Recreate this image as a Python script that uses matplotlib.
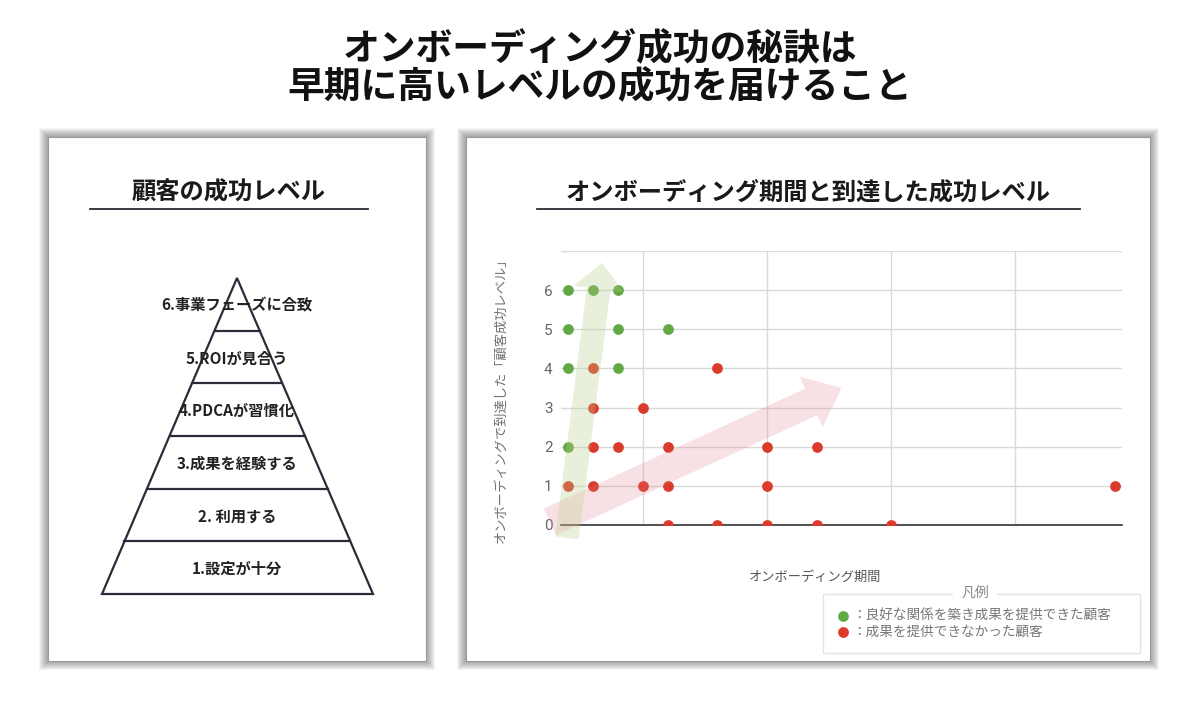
import matplotlib
matplotlib.use("Agg")
import matplotlib.pyplot as plt
from matplotlib.patches import Rectangle, Polygon
import numpy as np

plt.rcParams['font.family'] = ['Noto Sans CJK JP', 'DejaVu Sans']

# --- data ---
title_lines = ["オンボーディング成功の秘訣は", "早期に高いレベルの成功を届けること"]
pyramid_title = "顧客の成功レベル"
pyramid_levels = ["1.設定が十分", "2. 利用する", "3.成果を経験する",
                  "4.PDCAが習慣化", "5.ROIが見合う", "6.事業フェーズに合致"]

scatter_title = "オンボーディング期間と到達した成功レベル"
x_label = "オンボーディング期間"
y_label = "オンボーディングで到達した「顧客成功レベル」"
y_ticks = [0, 1, 2, 3, 4, 5, 6]

good_x = [2, 3, 4, 2, 4, 6, 2, 4, 2]
good_y = [6, 6, 6, 5, 5, 5, 4, 4, 2]
bad_x = [2, 3, 5, 6, 10, 24, 3, 4, 6, 10, 12, 3, 5, 3, 8, 6, 8, 10, 12, 15]
bad_y = [1, 1, 1, 1, 1, 1, 2, 2, 2, 2, 2, 3, 3, 4, 4, 0, 0, 0, 0, 0]

legend_title = "凡例"
legend_labels = ["：良好な関係を築き成果を提供できた顧客", "：成果を提供できなかった顧客"]

# trend arrows (data coords: tail -> tip)
green_arrow = ((1.94, -0.33), (3.35, 6.70))
red_arrow = ((1.25, 0.08), (13.0, 3.50))

GREEN = "#62a844"
RED = "#db3b2b"

fig = plt.figure(figsize=(12, 7.08), dpi=100)
fig.patch.set_facecolor("white")

# background layer in pixel coordinates
bg = fig.add_axes([0, 0, 1, 1])
bg.set_xlim(0, 1200)
bg.set_ylim(708, 0)
bg.axis("off")

# two panels with soft shadows
panels = [(48, 137, 378, 524), (466, 137, 684, 524)]
for (px, py, pw, ph) in panels:
    for k in range(9, 0, -1):
        bg.add_patch(Rectangle((px - k, py - k), pw + 2 * k, ph + 2 * k,
                               fc="black", ec="none", alpha=0.045))
    bg.add_patch(Rectangle((px, py), pw, ph, fc="white", ec="#9a9a9a", lw=0.8))

# main title
bg.text(600, 50, title_lines[0], ha="center", va="center", fontsize=26.5,
        fontweight="bold", color="#111111")
bg.text(600, 88, title_lines[1], ha="center", va="center", fontsize=26.5,
        fontweight="bold", color="#111111")

# panel headings
bg.text(229, 193, pyramid_title, ha="center", va="center", fontsize=17.5,
        fontweight="bold", color="#1a1a1a")
bg.plot([90, 368], [209, 209], color="#2b2b35", lw=1.3)
bg.text(808, 193, scatter_title, ha="center", va="center", fontsize=17.5,
        fontweight="bold", color="#1a1a1a")
bg.plot([537, 1080], [209, 209], color="#2b2b35", lw=1.3)

# pyramid
apex = (237, 278)
base_y, base_l, base_r = 594, 102, 373
edges = np.linspace(base_y, apex[1], len(pyramid_levels) + 1)
bg.add_patch(Polygon([(base_l, base_y), (base_r, base_y), apex], closed=True,
                     fc="none", ec="#2b2b3a", lw=1.6, joinstyle="miter"))
for yb in edges[1:-1]:
    t = (base_y - yb) / (base_y - apex[1])
    xl = base_l + t * (apex[0] - base_l)
    xr = base_r + t * (apex[0] - base_r)
    bg.plot([xl, xr], [yb, yb], color="#2b2b3a", lw=1.6)
for i, lab in enumerate(pyramid_levels):
    yc = (edges[i] + edges[i + 1]) / 2 + 1.5
    bg.text(237, yc, lab, ha="center", va="center", fontsize=11,
            fontweight="bold", color="#222222")

# scatter chart
ax = fig.add_axes([561 / 1200, 1 - 525 / 708, 561 / 1200, 274 / 708])
ax.set_facecolor("white")
ax.scatter(good_x, good_y, s=60, color=GREEN, zorder=3, linewidths=0,
           label=legend_labels[0])
ax.scatter(bad_x, bad_y, s=60, color=RED, zorder=3, linewidths=0,
           label=legend_labels[1])

ax.set_xlim(1.7, 24.3)
ax.set_ylim(0, 7)
ax.set_xticks([5, 10, 15, 20])
ax.set_xticklabels([])
ax.set_yticks(y_ticks + [7])
ax.set_yticklabels([str(v) for v in y_ticks] + [""])
ax.tick_params(length=0, labelsize=11, labelcolor="#666666", pad=6)
for lab in ax.get_yticklabels():
    lab.set_family(["Roboto", "DejaVu Sans"])
ax.grid(True, color="#d9d9d9", lw=1)
ax.set_axisbelow(True)
for s in ["top", "right", "left"]:
    ax.spines[s].set_visible(False)
ax.spines["bottom"].set_color("#333333")
ax.spines["bottom"].set_linewidth(1.2)
ax.spines["bottom"].set_zorder(2.5)

ax.set_ylabel(y_label, fontsize=9.5, color="#707070")
ax.yaxis.set_label_coords(-0.096, 0.467)
ax.set_xlabel(x_label, fontsize=9.5, color="#555555")
ax.xaxis.set_label_coords(0.453, -0.168)

# trend arrows on top, semi-transparent
ax.annotate("", xy=red_arrow[1], xytext=red_arrow[0], annotation_clip=False,
            arrowprops=dict(arrowstyle="simple,head_length=2.4,head_width=4.0,tail_width=2.1",
                            mutation_scale=10, fc="#e07a85", ec="none", alpha=0.22,
                            shrinkA=0, shrinkB=0), zorder=5)
ax.annotate("", xy=green_arrow[1], xytext=green_arrow[0], annotation_clip=False,
            arrowprops=dict(arrowstyle="simple,head_length=1.9,head_width=3.6,tail_width=1.7",
                            mutation_scale=10, fc="#b6cf8a", ec="none", alpha=0.3,
                            shrinkA=0, shrinkB=0), zorder=5)

leg = ax.legend(loc="upper left",
                bbox_to_anchor=(823 / 1200, 1 - 594 / 708, 317 / 1200, 0.0),
                bbox_transform=fig.transFigure, mode="expand",
                frameon=True, fancybox=False, edgecolor="#dddddd",
                fontsize=9.8, handlelength=0.8, handletextpad=0.3,
                labelspacing=0.2, borderpad=1.05, borderaxespad=0,
                markerscale=1.0)
for t in leg.get_texts():
    t.set_color("#777777")
ax.text(975 / 1200, 1 - 593 / 708, legend_title, transform=fig.transFigure,
        ha="center", va="center", fontsize=10, color="#888888", zorder=10,
        bbox=dict(fc="white", ec="none", pad=6))

fig.savefig("out.png", dpi=100, facecolor="white")
